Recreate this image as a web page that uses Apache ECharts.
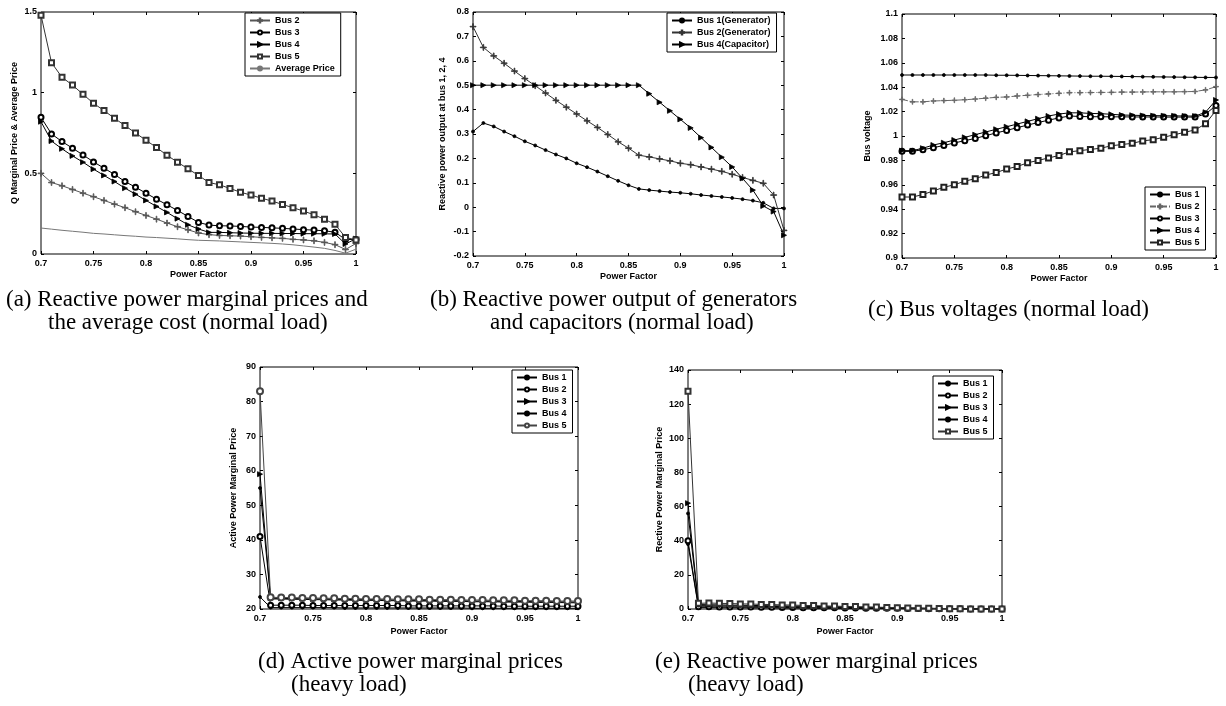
<!DOCTYPE html>
<html><head><meta charset="utf-8">
<script src="https://cdn.jsdelivr.net/npm/echarts@6/dist/echarts.min.js"></script>
<style>html,body{margin:0;padding:0;background:#fff}#c{width:1226px;height:706px}</style>
</head><body><div id="c"></div>
<script>
// ---------- DATA ----------
const pf = [0.70,0.71,0.72,0.73,0.74,0.75,0.76,0.77,0.78,0.79,0.80,0.81,0.82,0.83,0.84,0.85,0.86,0.87,0.88,0.89,0.90,0.91,0.92,0.93,0.94,0.95,0.96,0.97,0.98,0.99,1.00];

// (a) Reactive power marginal prices and average cost (normal load)
const a_bus2 = [0.50,0.443,0.423,0.40,0.377,0.355,0.332,0.309,0.287,0.262,0.239,0.216,0.192,0.169,0.15,0.13,0.12,0.115,0.113,0.111,0.107,0.103,0.10,0.097,0.091,0.087,0.082,0.072,0.058,0.028,0.065];
const a_bus3 = [0.847,0.744,0.697,0.656,0.614,0.571,0.532,0.493,0.449,0.414,0.377,0.340,0.305,0.270,0.233,0.196,0.179,0.175,0.174,0.171,0.167,0.165,0.162,0.159,0.155,0.151,0.148,0.144,0.135,0.09,0.09];
const a_bus4 = [0.82,0.70,0.652,0.608,0.569,0.526,0.487,0.449,0.408,0.371,0.332,0.295,0.258,0.219,0.181,0.155,0.134,0.134,0.132,0.130,0.129,0.128,0.128,0.127,0.127,0.126,0.126,0.125,0.124,0.062,0.095];
const a_bus5 = [1.48,1.186,1.095,1.047,0.99,0.934,0.889,0.841,0.796,0.75,0.705,0.66,0.612,0.569,0.528,0.487,0.443,0.429,0.406,0.383,0.365,0.346,0.328,0.307,0.287,0.266,0.243,0.215,0.184,0.103,0.087];
const a_avg  = [0.161,0.154,0.147,0.141,0.135,0.128,0.124,0.119,0.114,0.110,0.105,0.102,0.098,0.094,0.089,0.085,0.083,0.081,0.078,0.075,0.072,0.069,0.066,0.062,0.057,0.050,0.043,0.035,0.022,0.005,0.03];

// (b) Reactive power output of generators and capacitors (normal load)
const b_bus1 = [0.31,0.345,0.331,0.31,0.291,0.27,0.253,0.234,0.216,0.20,0.18,0.164,0.146,0.127,0.108,0.09,0.075,0.07,0.066,0.062,0.059,0.055,0.05,0.046,0.042,0.038,0.033,0.027,0.018,-0.005,-0.005];
const b_bus2 = [0.74,0.655,0.62,0.59,0.558,0.527,0.498,0.468,0.438,0.41,0.382,0.354,0.327,0.298,0.268,0.242,0.213,0.206,0.198,0.19,0.18,0.174,0.165,0.156,0.147,0.135,0.122,0.11,0.098,0.05,-0.095];
const b_bus4 = [0.5,0.5,0.5,0.5,0.5,0.5,0.5,0.5,0.5,0.5,0.5,0.5,0.5,0.5,0.5,0.5,0.5,0.465,0.43,0.395,0.36,0.325,0.285,0.245,0.205,0.165,0.118,0.07,0.005,-0.018,-0.115];

// (c) Bus voltages (normal load)
const c_bus1 = [1.050,1.050,1.050,1.050,1.050,1.050,1.050,1.050,1.050,1.0498,1.0498,1.0497,1.0496,1.0495,1.0494,1.0493,1.0492,1.0491,1.049,1.049,1.0489,1.0488,1.0487,1.0486,1.0485,1.0484,1.0483,1.0482,1.0481,1.048,1.048];
const c_bus2 = [1.030,1.028,1.028,1.0287,1.029,1.0293,1.0297,1.0303,1.031,1.0317,1.032,1.0328,1.0334,1.034,1.0345,1.035,1.0355,1.0355,1.0356,1.0357,1.0358,1.036,1.036,1.0361,1.0362,1.0362,1.0362,1.0363,1.0365,1.0378,1.0404];
const c_bus3 = [0.9874,0.9874,0.9888,0.9904,0.9923,0.9943,0.9962,0.998,1.0003,1.0025,1.0046,1.0068,1.009,1.011,1.013,1.0148,1.0164,1.016,1.0158,1.0158,1.0157,1.0157,1.0156,1.0156,1.0156,1.0155,1.0155,1.0155,1.0155,1.018,1.025];
const c_bus4 = [0.988,0.988,0.990,0.9926,0.9945,0.9967,0.9989,1.0011,1.0033,1.0055,1.0076,1.0098,1.012,1.0142,1.0164,1.018,1.019,1.019,1.0185,1.0183,1.0178,1.0172,1.017,1.0168,1.0167,1.0166,1.0165,1.0164,1.0163,1.0195,1.0295];
const c_bus5 = [0.950,0.950,0.952,0.955,0.958,0.960,0.963,0.965,0.968,0.970,0.973,0.975,0.978,0.980,0.982,0.984,0.987,0.988,0.989,0.990,0.992,0.993,0.994,0.996,0.997,0.999,1.001,1.003,1.005,1.010,1.021];

// (d) Active power marginal prices (heavy load)
const d_bus1 = [23.5,20.4,20.4,20.4,20.4,20.4,20.4,20.4,20.3,20.3,20.3,20.3,20.3,20.3,20.3,20.3,20.3,20.3,20.3,20.3,20.2,20.2,20.2,20.2,20.2,20.2,20.2,20.2,20.2,20.2,20.2];
const d_bus2 = [41,21.1,21.1,21.1,21.1,21.0,21.0,21.0,21.0,21.0,21.0,21.0,21.0,21.0,20.9,20.9,20.9,20.9,20.9,20.9,20.9,20.9,20.9,20.8,20.8,20.8,20.8,20.8,20.8,20.8,20.8];
const d_bus3 = [59,23.1,23.1,23.0,23.0,22.9,22.9,22.8,22.8,22.7,22.7,22.7,22.6,22.6,22.5,22.5,22.5,22.4,22.4,22.4,22.3,22.3,22.3,22.2,22.2,22.2,22.1,22.1,22.1,22.0,22.0];
const d_bus4 = [55,22.9,22.9,22.8,22.8,22.7,22.7,22.6,22.6,22.5,22.5,22.5,22.4,22.4,22.3,22.3,22.3,22.2,22.2,22.2,22.1,22.1,22.1,22.0,22.0,22.0,21.9,21.9,21.9,21.8,21.8];
const d_bus5 = [83,23.4,23.3,23.3,23.2,23.2,23.1,23.1,23.0,23.0,22.9,22.9,22.9,22.8,22.8,22.8,22.7,22.7,22.7,22.6,22.6,22.6,22.5,22.5,22.5,22.4,22.4,22.4,22.3,22.3,22.3];

// (e) Reactive power marginal prices (heavy load)
const e_bus1 = [38,0.8,0.8,0.7,0.7,0.7,0.6,0.6,0.6,0.5,0.5,0.5,0.4,0.4,0.4,0.3,0.3,0.3,0.2,0.2,0.2,0.1,0.1,0.1,0.0,0.0,0.0,0.0,0.0,0.0,0.0];
const e_bus2 = [40,1.3,1.3,1.2,1.2,1.1,1.1,1.0,1.0,0.9,0.9,0.8,0.8,0.7,0.7,0.6,0.6,0.5,0.5,0.4,0.4,0.3,0.3,0.2,0.2,0.1,0.1,0.0,0.0,0.0,0.0];
const e_bus3 = [62,2.6,2.5,2.4,2.3,2.2,2.1,2.0,1.9,1.8,1.7,1.6,1.5,1.4,1.3,1.2,1.1,1.0,0.9,0.8,0.7,0.6,0.5,0.4,0.3,0.2,0.1,0.0,0.0,0.0,0.0];
const e_bus4 = [56,2.0,1.9,1.8,1.8,1.7,1.6,1.5,1.5,1.4,1.3,1.2,1.2,1.1,1.0,0.9,0.9,0.8,0.7,0.6,0.6,0.5,0.4,0.3,0.3,0.2,0.1,0.0,0.0,0.0,0.0];
const e_bus5 = [127.5,3.3,3.5,3.3,3.2,3.0,2.9,2.7,2.6,2.4,2.3,2.1,2.0,1.8,1.7,1.5,1.4,1.2,1.1,0.9,0.8,0.6,0.5,0.4,0.3,0.2,0.1,0.0,0.0,0.0,0.0];

const xTitle = 'Power Factor';
const captions = [
  '(a) Reactive power marginal prices and', 'the average cost (normal load)',
  '(b) Reactive power output of generators', 'and capacitors (normal load)',
  '(c) Bus voltages (normal load)',
  '(d) Active power marginal prices', '(heavy load)',
  '(e) Reactive power marginal prices', '(heavy load)'
];

// ---------- STYLE / LAYOUT ----------
const PLUS = 'path://M3.5,0H4.5V3.5H8V4.5H4.5V8H3.5V4.5H0V3.5H3.5Z';
const TRI = 'path://M0,0L10,5L0,10Z';
const DOT = 'circle';
const FONT = 'Liberation Sans, Arial, sans-serif';

const panels = [
  { grid:{left:41, top:12, width:315, height:242}, y:{min:0,max:1.5,interval:0.5}, yName:'Q Marginal Price & Average Price', yGap:22, xGap:16,
    legend:{left:245, top:13},
    series:[
      {n:'Bus 2', d:a_bus2, s:PLUS, z:6, c:'#555'},
      {n:'Bus 3', d:a_bus3, s:'emptyCircle', z:5, c:'#000'},
      {n:'Bus 4', d:a_bus4, s:TRI, z:5, c:'#000'},
      {n:'Bus 5', d:a_bus5, s:'emptyRect', z:5, c:'#333'},
      {n:'Average Price', d:a_avg, s:'none', z:0, c:'#777'}
    ]},
  { grid:{left:473, top:12, width:311, height:244}, y:{min:-0.2,max:0.8,interval:0.1}, yName:'Reactive power output at bus 1, 2, 4', yGap:26, xGap:16,
    legend:{left:667, top:13},
    series:[
      {n:'Bus 1(Generator)', d:b_bus1, s:DOT, z:3, c:'#000'},
      {n:'Bus 2(Generator)', d:b_bus2, s:PLUS, z:6, c:'#333'},
      {n:'Bus 4(Capacitor)', d:b_bus4, s:TRI, z:5, c:'#000'}
    ]},
  { grid:{left:902, top:14, width:314, height:244}, y:{min:0.9,max:1.1,interval:0.02}, yName:'Bus voltage', yGap:30, xGap:16,
    legend:{left:1145, top:187},
    series:[
      {n:'Bus 1', d:c_bus1, s:DOT, z:3, c:'#000'},
      {n:'Bus 2', d:c_bus2, s:PLUS, z:5, c:'#666', t:[6,2,1,2]},
      {n:'Bus 3', d:c_bus3, s:'emptyCircle', z:5, c:'#000'},
      {n:'Bus 4', d:c_bus4, s:TRI, z:5, c:'#000'},
      {n:'Bus 5', d:c_bus5, s:'emptyRect', z:5, c:'#222'}
    ]},
  { grid:{left:260, top:367, width:318, height:242}, y:{min:20,max:90,interval:10}, yName:'Active Power Marginal Price', yGap:22, xGap:18,
    legend:{left:512, top:370},
    series:[
      {n:'Bus 1', d:d_bus1, s:DOT, z:3, c:'#000'},
      {n:'Bus 2', d:d_bus2, s:'emptyCircle', z:5, c:'#000'},
      {n:'Bus 3', d:d_bus3, s:TRI, z:5, c:'#000'},
      {n:'Bus 4', d:d_bus4, s:DOT, z:3, c:'#000'},
      {n:'Bus 5', d:d_bus5, s:'emptyCircle', z:6, c:'#444'}
    ]},
  { grid:{left:688, top:370, width:314, height:239}, y:{min:0,max:140,interval:20}, yName:'Rective Power Marginal Price', yGap:24, xGap:18,
    legend:{left:933, top:376},
    series:[
      {n:'Bus 1', d:e_bus1, s:DOT, z:3, c:'#000'},
      {n:'Bus 2', d:e_bus2, s:'emptyCircle', z:5, c:'#000'},
      {n:'Bus 3', d:e_bus3, s:TRI, z:5, c:'#000'},
      {n:'Bus 4', d:e_bus4, s:DOT, z:3, c:'#000'},
      {n:'Bus 5', d:e_bus5, s:'emptyRect', z:5, c:'#333'}
    ]}
];

const capPos = [[6,288],[48,311],[430,288],[490,311],[868,298],[258,650],[291,673],[655,650],[688,673]];

// ---------- BUILD ----------
const labelStyle = {color:'#000', fontFamily:FONT, fontWeight:'bold', fontSize:9};
const grids=[], xAxes=[], yAxes=[], series=[], legends=[];
panels.forEach((p,i)=>{
  grids.push(Object.assign({show:true, borderColor:'#000', borderWidth:1, backgroundColor:'transparent', containLabel:false}, p.grid));
  const xb = {gridIndex:i, type:'value', min:0.7, max:1, interval:0.05, splitLine:{show:false},
    axisLine:{show:false, onZero:false}, axisTick:{inside:true, length:3, lineStyle:{color:'#000'}},
    axisLabel:Object.assign({margin:5}, labelStyle),
    name:xTitle, nameLocation:'middle', nameGap:p.xGap, nameTextStyle:labelStyle};
  const xt = {gridIndex:i, type:'value', position:'top', min:0.7, max:1, interval:0.05, splitLine:{show:false},
    axisLine:{show:false, onZero:false}, axisTick:{inside:true, length:3, lineStyle:{color:'#000'}}, axisLabel:{show:false}};
  const yl = Object.assign({gridIndex:i, type:'value', splitLine:{show:false},
    axisLine:{show:false, onZero:false}, axisTick:{inside:true, length:3, lineStyle:{color:'#000'}},
    axisLabel:Object.assign({margin:4}, labelStyle),
    name:p.yName, nameLocation:'middle', nameGap:p.yGap, nameTextStyle:labelStyle}, p.y);
  const yr = Object.assign({gridIndex:i, type:'value', position:'right', splitLine:{show:false},
    axisLine:{show:false, onZero:false}, axisTick:{inside:true, length:3, lineStyle:{color:'#000'}}, axisLabel:{show:false}}, p.y);
  xAxes.push(xb, xt); yAxes.push(yl, yr);
  const names=[];
  p.series.forEach(s=>{
    const nm = i+'|'+s.n; names.push(nm);
    series.push({type:'line', name:nm, xAxisIndex:2*i, yAxisIndex:2*i,
      data:pf.map((x,k)=>[x, s.d[k]]),
      symbol:s.s, symbolSize:s.z, showSymbol:s.s!=='none', animation:false,
      lineStyle:{color:s.c, width:1, type:s.t||'solid'},
      itemStyle:{color:s.c, borderColor:s.c, borderWidth:0.8}});
  });
  legends.push({orient:'vertical', left:p.legend.left, top:p.legend.top, data:names,
    formatter:n=>n.split('|')[1], selectedMode:false,
    backgroundColor:'#fff', borderColor:'#000', borderWidth:1, padding:[3,6,3,4],
    itemGap:3, itemWidth:20, itemHeight:5, textStyle:labelStyle});
});

const titles = captions.map((t,k)=>({text:t, left:capPos[k][0], top:capPos[k][1], padding:0,
  textStyle:{fontFamily:'Liberation Serif, Times New Roman, serif', fontSize:23, fontWeight:'normal', color:'#000'}}));

const chart = echarts.init(document.getElementById('c'), null, {renderer:'canvas'});
chart.setOption({backgroundColor:'#fff', animation:false, title:titles, grid:grids, xAxis:xAxes, yAxis:yAxes, legend:legends, series:series});
</script></body></html>
